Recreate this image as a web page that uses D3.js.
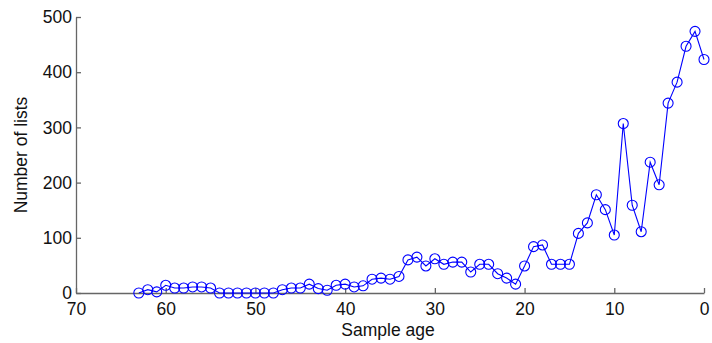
<!DOCTYPE html>
<html>
<head>
<meta charset="utf-8">
<script src="https://cdn.jsdelivr.net/npm/d3@7"></script>
<style>
body { margin: 0; background: #fff; }
svg { display: block; font-family: "Liberation Sans", Arial, sans-serif; }
.axis path, .axis line { stroke: #666; stroke-width: 1.3; }
.axis text { fill: #111; font-size: 17.5px; }
</style>
</head>
<body>
<svg width="712" height="343"></svg>
<script>
// sample ages (x) and number of lists (y)
var ages = [63,62,61,60,59,58,57,56,55,54,53,52,51,50,49,48,47,46,45,44,43,42,41,40,39,38,37,36,35,34,33,32,31,30,29,28,27,26,25,24,23,22,21,20,19,18,17,16,15,14,13,12,11,10,9,8,7,6,5,4,3,2,1,0];
var counts = [0,6,2,14,9,9,11,11,9,0,0,0,0,0,0,0,6,9,9,16,8,5,14,16,11,13,25,27,25,30,60,65,49,62,52,56,56,38,52,52,35,27,16,49,84,87,52,52,52,108,127,178,151,105,307,159,111,237,196,344,382,447,474,423];
var xTicks = [70,60,50,40,30,20,10,0];
var yTicks = [0,100,200,300,400,500];

var svg = d3.select("svg"),
	margin = {left: 76, right: 8, top: 17, bottom: 50},
	width = +svg.attr("width"),
	height = +svg.attr("height");

var x = d3.scaleLinear().domain([70, 0]).range([margin.left, width - margin.right]);
var y = d3.scaleLinear().domain([0, 500]).range([height - margin.bottom, margin.top]);

var data = ages.map(function (a, i) { return {age: a, n: counts[i]}; });

// axes, ticks pointing inward like matlab
svg.append("g")
	.attr("class", "axis")
	.attr("transform", "translate(0," + y(0) + ")")
	.call(d3.axisBottom(x).tickValues(xTicks).tickSizeInner(-5).tickSizeOuter(0).tickPadding(9))
	.selectAll("text").attr("dy", "0.75em");

svg.append("g")
	.attr("class", "axis")
	.attr("transform", "translate(" + x(70) + ",0)")
	.call(d3.axisLeft(y).tickValues(yTicks).tickSizeInner(-5).tickSizeOuter(0).tickPadding(4))
	.selectAll("text").attr("dy", "0.33em");

svg.selectAll(".axis .domain").attr("stroke", "#666");

var line = d3.line()
	.x(function (d) { return x(d.age); })
	.y(function (d) { return y(d.n); });

svg.append("path")
	.datum(data)
	.attr("d", line)
	.attr("fill", "none")
	.attr("stroke", "#0000ff")
	.attr("stroke-width", 1.1);

svg.selectAll(".pt")
	.data(data)
	.enter()
	.append("circle")
	.attr("class", "pt")
	.attr("cx", function (d) { return x(d.age); })
	.attr("cy", function (d) { return y(d.n); })
	.attr("r", 5)
	.attr("fill", "none")
	.attr("stroke", "#0000ff")
	.attr("stroke-width", 1.1);

svg.append("text")
	.attr("x", (x(70) + x(0)) / 2 - 2)
	.attr("y", 336)
	.attr("text-anchor", "middle")
	.attr("font-size", 17.5)
	.attr("fill", "#111")
	.text("Sample age");

svg.append("text")
	.attr("transform", "translate(27," + y(250) + ") rotate(-90)")
	.attr("text-anchor", "middle")
	.attr("font-size", 17.5)
	.attr("fill", "#111")
	.text("Number of lists");
</script>
</body>
</html>
